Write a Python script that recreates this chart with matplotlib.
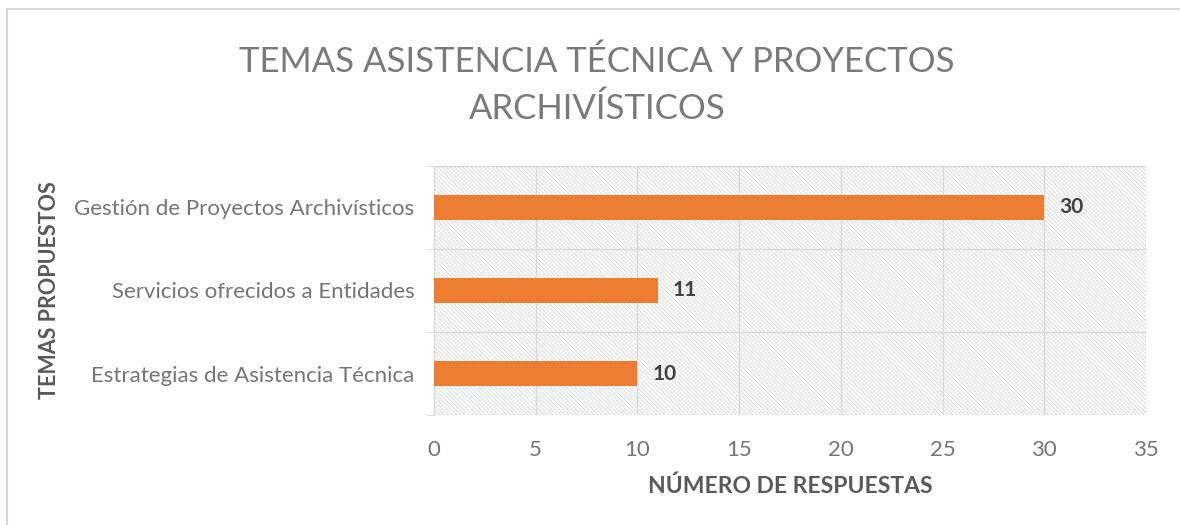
import matplotlib.pyplot as plt
from matplotlib.patches import Rectangle

temas = ["Estrategias de Asistencia Técnica",
         "Servicios ofrecidos a Entidades",
         "Gestión de Proyectos Archivísticos"]
respuestas = [10, 11, 30]
x_ticks = [0, 5, 10, 15, 20, 25, 30, 35]

plt.rcParams['font.family'] = ['Lato', 'DejaVu Sans']
plt.rcParams['hatch.linewidth'] = 0.6

fig = plt.figure(figsize=(11.8, 5.25), dpi=100)
# marco gris claro del gráfico
fig.add_artist(Rectangle((7 / 1180, -0.1), 1.2, 1 - 9 / 525 + 0.1,
                         transform=fig.transFigure, fill=False,
                         edgecolor='#d9d9d9', lw=1.5))
ax = fig.add_axes([434 / 1180, 1 - 415 / 525, 712 / 1180, 249 / 525])

# fondo rayado
ax.add_patch(Rectangle((0, 0), 1, 1, transform=ax.transAxes,
                       hatch='\\' * 8, fill=False, edgecolor='#d6d6d6',
                       lw=0, zorder=0))

pos = range(len(temas))
ax.barh(pos, respuestas, height=0.29, color='#ed7d31', zorder=3)
for p, v in zip(pos, respuestas):
    ax.text(v + 0.75, p, str(v), va='center', ha='left', fontsize=15,
            fontweight='bold', color='#404040', zorder=4)

ax.set_xlim(0, 35)
ax.set_ylim(-0.5, 2.5)
ax.set_xticks(x_ticks)
ax.set_yticks(list(pos))
ax.set_yticklabels(temas)
ax.set_yticks([-0.5, 0.5, 1.5, 2.5], minor=True)
ax.tick_params(axis='y', which='major', length=0, pad=14)
ax.tick_params(axis='y', which='minor', length=6, color='#d9d9d9')
ax.tick_params(axis='x', length=0, pad=18)
ax.tick_params(labelsize=16, labelcolor='#757575')
ax.grid(axis='x', color='#d9d9d9', lw=1, zorder=1)
ax.grid(axis='y', which='minor', color='#d9d9d9', lw=1, zorder=1)
for s in ['top', 'right', 'bottom']:
    ax.spines[s].set_visible(False)
ax.spines['left'].set_color('#d9d9d9')
ax.set_axisbelow(True)

ax.set_xlabel("NÚMERO DE RESPUESTAS", fontsize=16.5, fontweight='bold',
              color='#595959', labelpad=11)
ax.set_ylabel("TEMAS PROPUESTOS", fontsize=15.5, fontweight='bold',
              color='#595959')
ax.yaxis.set_label_coords(-0.525, 0.5)

fig.text(597 / 1180, 1 - 62 / 525, "TEMAS ASISTENCIA TÉCNICA Y PROYECTOS",
         ha='center', va='center', fontsize=25, color='#7a7a7a')
fig.text(597 / 1180, 1 - 109 / 525, "ARCHIVÍSTICOS", ha='center', va='center',
         fontsize=25, color='#7a7a7a')

fig.savefig("out.png", dpi=100)
